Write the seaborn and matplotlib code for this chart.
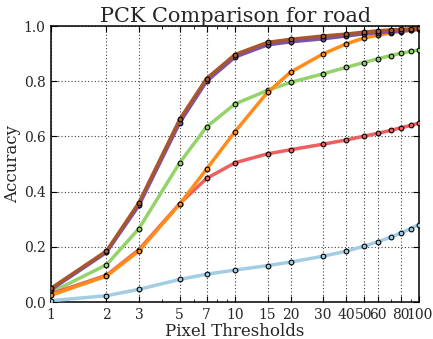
import numpy as np
import pandas as pd
import seaborn as sns
import matplotlib
matplotlib.use("Agg")
import matplotlib.pyplot as plt
from matplotlib.ticker import FixedLocator, FixedFormatter, NullFormatter

# Pixel thresholds evaluated
thresholds = [1, 2, 3, 5, 7, 10, 15, 20, 30, 40, 50, 60, 70, 80, 90, 100]
tick_values = [1, 2, 3, 5, 7, 10, 15, 20, 30, 40, 50, 60, 80, 100]
tick_labels = ["1", "2", "3", "5", "7", "10", "15", "20", "30", "40", "50", "60", "80", "100"]

# PCK accuracy per method (drawn in this order)
method_a = [0.005, 0.023, 0.046, 0.082, 0.101, 0.116, 0.132, 0.145, 0.166, 0.184,
            0.202, 0.219, 0.235, 0.251, 0.266, 0.281]
method_b = [0.035, 0.135, 0.266, 0.505, 0.635, 0.718, 0.767, 0.796, 0.827, 0.850,
            0.868, 0.882, 0.893, 0.902, 0.908, 0.914]
method_c = [0.030, 0.097, 0.190, 0.357, 0.448, 0.505, 0.537, 0.552, 0.572, 0.587,
            0.601, 0.612, 0.622, 0.632, 0.640, 0.649]
method_d = [0.025, 0.094, 0.185, 0.355, 0.482, 0.618, 0.760, 0.833, 0.899, 0.935,
            0.957, 0.967, 0.975, 0.980, 0.985, 0.990]
method_e = [0.045, 0.180, 0.350, 0.650, 0.800, 0.888, 0.932, 0.943, 0.954, 0.964,
            0.972, 0.976, 0.980, 0.983, 0.985, 0.988]
method_f = [0.050, 0.185, 0.360, 0.662, 0.810, 0.897, 0.941, 0.952, 0.964, 0.971,
            0.978, 0.983, 0.986, 0.988, 0.990, 0.992]

series = [method_a, method_b, method_c, method_d, method_e, method_f]
colors = ["#a3cde3", "#94d26a", "#ee6060", "#ff8c1a", "#7b52b0", "#a8562a"]

sns.set_style("ticks")
plt.rcParams["font.family"] = ["DejaVu Serif"]
plt.rcParams["xtick.direction"] = "in"
plt.rcParams["ytick.direction"] = "in"
plt.rcParams["mathtext.fontset"] = "dejavuserif"

fig = plt.figure(figsize=(4.33, 3.39), dpi=100)
ax = fig.add_axes([0.118, 0.109, 0.850, 0.814])

for i, vals in enumerate(series):
    df = pd.DataFrame({"threshold": thresholds, "accuracy": vals})
    sns.lineplot(data=df, x="threshold", y="accuracy", ax=ax, color=colors[i],
                 linewidth=2.5, marker="o", markersize=3.4,
                 markeredgecolor="black", markeredgewidth=0.8,
                 markerfacecolor=colors[i], zorder=3 + i)

ax.set_xscale("log")
ax.set_xlim(1, 100)
ax.set_ylim(0, 1.0)
ax.xaxis.set_major_locator(FixedLocator(tick_values))
ax.xaxis.set_major_formatter(FixedFormatter(tick_labels))
ax.xaxis.set_minor_formatter(NullFormatter())
ax.set_yticks([0.0, 0.2, 0.4, 0.6, 0.8, 1.0])
ax.set_yticklabels(["0.0", "0.2", "0.4", "0.6", "0.8", "1.0"])

ax.tick_params(which="both", top=True, right=True, direction="in",
               labelsize=10, pad=4, color="black")
ax.tick_params(which="major", length=4, width=0.8)
ax.tick_params(which="minor", length=2, width=0.6)

ax.grid(True, which="major", linestyle=(0, (1, 2)), color="black",
        linewidth=0.8, alpha=0.75)
for sp in ax.spines.values():
    sp.set_linewidth(1.1)
    sp.set_color("black")

ax.set_title("PCK Comparison for road", fontsize=15, pad=3)
ax.set_xlabel("Pixel Thresholds", fontsize=12, labelpad=1)
ax.set_ylabel("Accuracy", fontsize=12, labelpad=2)

fig.savefig("out.png", dpi=100)
